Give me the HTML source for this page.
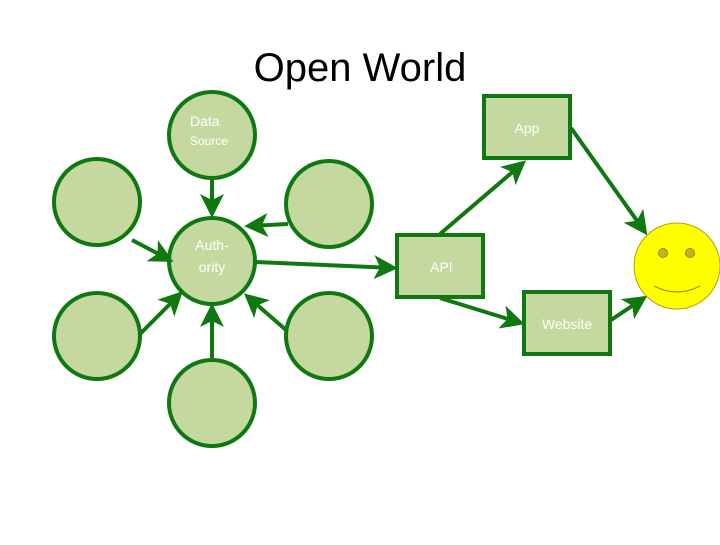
<!DOCTYPE html>
<html><head><style>body{margin:0;background:#fff}</style></head><body>
<svg width="720" height="540" xmlns="http://www.w3.org/2000/svg" font-family="Liberation Sans, sans-serif">
<defs><marker id="a" markerWidth="6" markerHeight="6" refX="5" refY="3" orient="auto" markerUnits="strokeWidth"><path d="M0,0 L6,3 L0,6 L1.5,3 Z" fill="#107810"/></marker></defs>
<text x="360" y="81" font-size="40" text-anchor="middle" fill="#000">Open World</text>
<g fill="#c4d89f" stroke="#107810" stroke-width="4">
<circle cx="212" cy="135" r="43"/><circle cx="212" cy="261" r="43"/>
<circle cx="329" cy="204" r="43"/><circle cx="97" cy="202" r="43"/>
<circle cx="97" cy="336" r="43"/><circle cx="329" cy="336" r="43"/>
<circle cx="212" cy="403" r="43"/>
<rect x="484" y="96" width="86" height="62"/><rect x="397" y="235" width="86" height="62"/>
<rect x="524" y="292" width="86" height="62"/>
</g>
<g stroke="#107810" stroke-width="4" fill="none" marker-end="url(#a)">
<line x1="212" y1="179" x2="212" y2="214"/>
<line x1="288" y1="224" x2="248" y2="226"/>
<line x1="132" y1="240" x2="170" y2="260"/>
<line x1="256" y1="262" x2="394" y2="268"/>
<line x1="140" y1="334" x2="180" y2="294"/>
<line x1="212" y1="358" x2="212" y2="307"/>
<line x1="286" y1="330" x2="247" y2="296"/>
<line x1="440" y1="234" x2="523" y2="163"/>
<line x1="571" y1="128" x2="645" y2="232"/>
<line x1="440" y1="298" x2="521" y2="323"/>
<line x1="611" y1="320" x2="644" y2="298"/>
</g>
<circle cx="677" cy="266" r="43" fill="#ffff00" stroke="#b8a000" stroke-width="1"/>
<circle cx="663" cy="253" r="4.5" fill="#c8b020" stroke="#a08800" stroke-width="1"/>
<circle cx="690" cy="253" r="4.5" fill="#c8b020" stroke="#a08800" stroke-width="1"/>
<path d="M654 286 Q677 298 700 286" fill="none" stroke="#a08800" stroke-width="1.2"/>
<g fill="#fff" font-size="14">
<text x="190" y="126">Data</text><text x="190" y="145" font-size="12">Source</text>
<text x="212" y="250" text-anchor="middle">Auth-</text><text x="212" y="272" text-anchor="middle">ority</text>
<text x="527" y="133" text-anchor="middle">App</text>
<text x="430" y="272">API</text>
<text x="567" y="329" text-anchor="middle">Website</text>
</g>
</svg>
</body></html>
